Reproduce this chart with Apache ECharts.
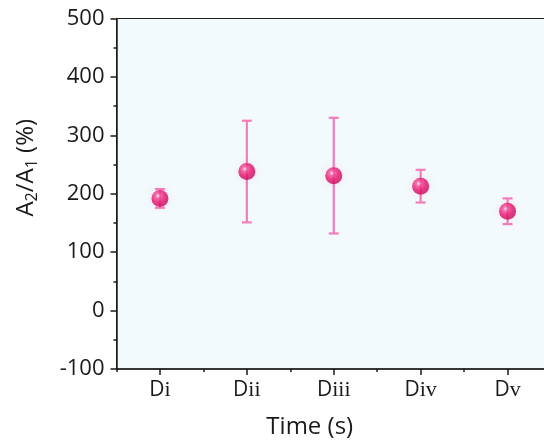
<!DOCTYPE html>
<html>
<head>
<meta charset="utf-8">
<script src="https://cdn.jsdelivr.net/npm/echarts@6/dist/echarts.min.js"></script>
<style>
  html, body { margin: 0; padding: 0; background: #ffffff; }
  #chart { width: 544px; height: 446px; }
</style>
</head>
<body>
<div id="chart"></div>
<script>
// Sample groups along the time axis
const categories = ['Di', 'Dii', 'Diii', 'Div', 'Dv'];
// Mean ratio A2/A1 in percent
const means = [192, 238, 231, 213, 170];
// Standard deviation for each group
const errors = [16, 87, 99, 28, 22];
// Y axis range and step
const yTicks = { min: -100, max: 500, step: 100 };

const SANS = '"Open Sans", "Noto Sans", sans-serif';
const SERIF = '"Liberation Serif", "DejaVu Serif", serif';

const errorData = categories.map((c, i) => [i, means[i] - errors[i], means[i] + errors[i]]);
const pointData = categories.map((c, i) => [i, means[i]]);

const chart = echarts.init(document.getElementById('chart'), null, { renderer: 'canvas' });

chart.setOption({
  animation: false,
  grid: {
    left: 116.5,
    top: 18.5,
    width: 434.5,
    bottom: 77,
    outerBoundsMode: 'none',
    containLabel: false,
    show: true,
    backgroundColor: '#f2fafd',
    borderColor: '#222',
    borderWidth: 1
  },
  xAxis: [
    {
      type: 'category',
      data: categories,
      boundaryGap: true,
      name: 'Time (s)',
      nameLocation: 'middle',
      nameGap: 46,
      nameTextStyle: { fontFamily: SANS, fontSize: 24, color: '#1a1a1a', padding: [0, 48, 0, 0] },
      axisLine: { show: true, onZero: false, lineStyle: { color: '#1a1a1a', width: 1.5 } },
      axisTick: { show: true, alignWithLabel: true, length: 6, lineStyle: { color: '#1a1a1a', width: 1.5 } },
      axisLabel: {
        margin: 10,
        formatter: v => '{d|D}{n|' + v.slice(1) + '}',
        rich: {
          d: { fontFamily: SANS, fontSize: 21, color: '#1a1a1a' },
          n: { fontFamily: SERIF, fontSize: 22, color: '#1a1a1a' }
        }
      },
      splitLine: { show: false }
    },
    {
      // boundary ticks between groups
      type: 'category',
      data: categories,
      boundaryGap: true,
      position: 'bottom',
      axisLine: { show: false, onZero: false },
      axisTick: { show: true, length: 3, lineStyle: { color: '#1a1a1a', width: 1.5 } },
      axisLabel: { show: false },
      splitLine: { show: false }
    }
  ],
  yAxis: {
    type: 'value',
    min: yTicks.min,
    max: yTicks.max,
    interval: yTicks.step,
    name: '{a|A}{s|2}{a|/A}{s|1}{a| (%)}',
    nameLocation: 'middle',
    nameGap: 76,
    nameTextStyle: {
      padding: [0, 0, 0, 52],
      rich: {
        a: { fontFamily: SANS, fontSize: 24, color: '#1a1a1a' },
        s: { fontFamily: SANS, fontSize: 16, color: '#1a1a1a', padding: [12, 0, 0, 0] }
      }
    },
    axisLine: { show: true, lineStyle: { color: '#1a1a1a', width: 1.5 } },
    axisTick: { show: true, length: 6, lineStyle: { color: '#1a1a1a', width: 1.5 } },
    minorTick: { show: true, splitNumber: 2, length: 3, lineStyle: { color: '#1a1a1a', width: 1.5 } },
    axisLabel: { margin: 12, fontFamily: SANS, fontSize: 22, color: '#1a1a1a' },
    splitLine: { show: false },
    minorSplitLine: { show: false }
  },
  series: [
    {
      type: 'custom',
      name: 'error',
      xAxisIndex: 0,
      z: 2,
      data: errorData,
      renderItem: function (params, api) {
        const x = api.value(0);
        const lo = api.coord([x, api.value(1)]);
        const hi = api.coord([x, api.value(2)]);
        const w = 5;
        const style = { stroke: '#f27db8', lineWidth: 2.2, fill: null };
        return {
          type: 'group',
          children: [
            { type: 'line', shape: { x1: hi[0], y1: hi[1], x2: lo[0], y2: lo[1] }, style: style },
            { type: 'line', shape: { x1: hi[0] - w, y1: hi[1], x2: hi[0] + w, y2: hi[1] }, style: style },
            { type: 'line', shape: { x1: lo[0] - w, y1: lo[1], x2: lo[0] + w, y2: lo[1] }, style: style }
          ]
        };
      }
    },
    {
      type: 'scatter',
      name: 'mean',
      xAxisIndex: 0,
      z: 3,
      data: pointData,
      symbol: 'circle',
      symbolSize: 17,
      itemStyle: {
        color: {
          type: 'radial', x: 0.38, y: 0.35, r: 0.65,
          colorStops: [
            { offset: 0, color: '#ffe3ef' },
            { offset: 0.22, color: '#f2509a' },
            { offset: 0.6, color: '#e6106c' },
            { offset: 1, color: '#c8075a' }
          ]
        },
        shadowBlur: 8,
        shadowColor: 'rgba(235, 60, 140, 0.18)'
      }
    }
  ]
});
</script>
</body>
</html>
